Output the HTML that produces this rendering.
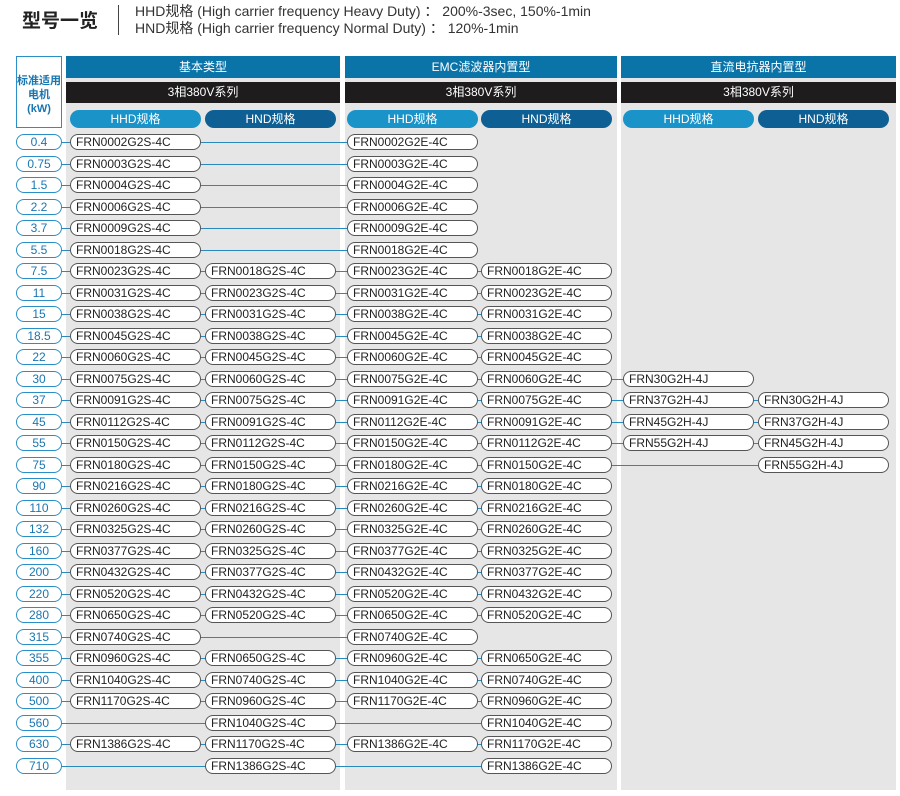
<!DOCTYPE html>
<html><head><meta charset="utf-8"><style>
*{margin:0;padding:0;box-sizing:border-box}
body{width:900px;height:796px;background:#fff;position:relative;overflow:hidden;font-family:"Liberation Sans","Noto Sans CJK SC",sans-serif}
.a{position:absolute}
.g{position:absolute;top:56px;height:734px;background:#e6e6e6}
.bl{position:absolute;top:56px;height:22px;background:#0a74a9;color:#fff;font-size:12px;text-align:center;line-height:22px}
.bk{position:absolute;top:82px;height:21px;background:#1e1c1c;color:#fff;font-size:12px;text-align:center;line-height:21px}
.h1,.h2{position:absolute;top:110px;height:18px;border-radius:9px;color:#fff;font-size:12px;text-align:center;line-height:18px;width:131px}
.h1{background:#1a93c9}.h2{background:#0e5f94}
.r{position:absolute;left:0;width:900px;height:16px;margin-top:-0.5px}
.ln{position:absolute;top:8px;height:1px;left:40px;background:#2b88bb}
.k{position:absolute;left:16px;width:46px;height:16px;border:1.3px solid #2a8fc6;border-radius:8px;background:#fff;color:#1a76b0;font-size:12px;text-align:center;line-height:14px}
.p{position:absolute;width:131px;height:16px;border:1.2px solid #555;border-radius:8px;background:#fff;color:#222;font-size:12px;line-height:14px;padding-left:5px;white-space:nowrap}
.c1{left:70px}.c2{left:205px}.c3{left:347px}.c4{left:481px}.c5{left:623px}.c6{left:758px}
</style></head><body>
<div class="a" style="left:22px;top:6px;font-size:19px;font-weight:bold;color:#222">型号一览</div>
<div class="a" style="left:118px;top:5px;width:1px;height:30px;background:#444"></div>
<div class="a" style="left:135px;top:3px;font-size:14px;color:#333;line-height:17px">HHD规格 (High carrier frequency Heavy Duty) ： 200%-3sec, 150%-1min<br>HND规格 (High carrier frequency Normal Duty) ： 120%-1min</div>
<div class="a" style="left:16px;top:56px;width:46px;height:72px;border:1.3px solid #2a8fc6;color:#1a76b0;font-size:11px;font-weight:bold;text-align:center;line-height:14px;padding-top:17px">标准适用<br>电机<br>(kW)</div>
<div class="g" style="left:66px;width:274px"></div>
<div class="g" style="left:345px;width:272px"></div>
<div class="g" style="left:621px;width:275px"></div>
<div class="bl" style="left:66px;width:274px">基本类型</div>
<div class="bl" style="left:345px;width:272px">EMC滤波器内置型</div>
<div class="bl" style="left:621px;width:275px">直流电抗器内置型</div>
<div class="bk" style="left:66px;width:274px">3相380V系列</div>
<div class="bk" style="left:345px;width:272px">3相380V系列</div>
<div class="bk" style="left:621px;width:275px">3相380V系列</div>
<div class="h1" style="left:70px">HHD规格</div><div class="h2" style="left:205px">HND规格</div>
<div class="h1" style="left:347px">HHD规格</div><div class="h2" style="left:481px">HND规格</div>
<div class="h1" style="left:623px">HHD规格</div><div class="h2" style="left:758px">HND规格</div>

<div class="r" style="top:134.5px"><div class="ln" style="width:307px"></div><div class="k">0.4</div><div class="p c1">FRN0002G2S-4C</div><div class="p c3">FRN0002G2E-4C</div></div>
<div class="r" style="top:156px"><div class="ln" style="width:307px"></div><div class="k">0.75</div><div class="p c1">FRN0003G2S-4C</div><div class="p c3">FRN0003G2E-4C</div></div>
<div class="r" style="top:177.5px"><div class="ln" style="width:307px"></div><div class="k">1.5</div><div class="p c1">FRN0004G2S-4C</div><div class="p c3">FRN0004G2E-4C</div></div>
<div class="r" style="top:199px"><div class="ln" style="width:307px"></div><div class="k">2.2</div><div class="p c1">FRN0006G2S-4C</div><div class="p c3">FRN0006G2E-4C</div></div>
<div class="r" style="top:220.5px"><div class="ln" style="width:307px"></div><div class="k">3.7</div><div class="p c1">FRN0009G2S-4C</div><div class="p c3">FRN0009G2E-4C</div></div>
<div class="r" style="top:242px"><div class="ln" style="width:307px"></div><div class="k">5.5</div><div class="p c1">FRN0018G2S-4C</div><div class="p c3">FRN0018G2E-4C</div></div>
<div class="r" style="top:263.5px"><div class="ln" style="width:441px"></div><div class="k">7.5</div><div class="p c1">FRN0023G2S-4C</div><div class="p c2">FRN0018G2S-4C</div><div class="p c3">FRN0023G2E-4C</div><div class="p c4">FRN0018G2E-4C</div></div>
<div class="r" style="top:285px"><div class="ln" style="width:441px"></div><div class="k">11</div><div class="p c1">FRN0031G2S-4C</div><div class="p c2">FRN0023G2S-4C</div><div class="p c3">FRN0031G2E-4C</div><div class="p c4">FRN0023G2E-4C</div></div>
<div class="r" style="top:306.5px"><div class="ln" style="width:441px"></div><div class="k">15</div><div class="p c1">FRN0038G2S-4C</div><div class="p c2">FRN0031G2S-4C</div><div class="p c3">FRN0038G2E-4C</div><div class="p c4">FRN0031G2E-4C</div></div>
<div class="r" style="top:328px"><div class="ln" style="width:441px"></div><div class="k">18.5</div><div class="p c1">FRN0045G2S-4C</div><div class="p c2">FRN0038G2S-4C</div><div class="p c3">FRN0045G2E-4C</div><div class="p c4">FRN0038G2E-4C</div></div>
<div class="r" style="top:349.5px"><div class="ln" style="width:441px"></div><div class="k">22</div><div class="p c1">FRN0060G2S-4C</div><div class="p c2">FRN0045G2S-4C</div><div class="p c3">FRN0060G2E-4C</div><div class="p c4">FRN0045G2E-4C</div></div>
<div class="r" style="top:371px"><div class="ln" style="width:583px"></div><div class="k">30</div><div class="p c1">FRN0075G2S-4C</div><div class="p c2">FRN0060G2S-4C</div><div class="p c3">FRN0075G2E-4C</div><div class="p c4">FRN0060G2E-4C</div><div class="p c5">FRN30G2H-4J</div></div>
<div class="r" style="top:392.5px"><div class="ln" style="width:718px"></div><div class="k">37</div><div class="p c1">FRN0091G2S-4C</div><div class="p c2">FRN0075G2S-4C</div><div class="p c3">FRN0091G2E-4C</div><div class="p c4">FRN0075G2E-4C</div><div class="p c5">FRN37G2H-4J</div><div class="p c6">FRN30G2H-4J</div></div>
<div class="r" style="top:414px"><div class="ln" style="width:718px"></div><div class="k">45</div><div class="p c1">FRN0112G2S-4C</div><div class="p c2">FRN0091G2S-4C</div><div class="p c3">FRN0112G2E-4C</div><div class="p c4">FRN0091G2E-4C</div><div class="p c5">FRN45G2H-4J</div><div class="p c6">FRN37G2H-4J</div></div>
<div class="r" style="top:435.5px"><div class="ln" style="width:718px"></div><div class="k">55</div><div class="p c1">FRN0150G2S-4C</div><div class="p c2">FRN0112G2S-4C</div><div class="p c3">FRN0150G2E-4C</div><div class="p c4">FRN0112G2E-4C</div><div class="p c5">FRN55G2H-4J</div><div class="p c6">FRN45G2H-4J</div></div>
<div class="r" style="top:457px"><div class="ln" style="width:718px"></div><div class="k">75</div><div class="p c1">FRN0180G2S-4C</div><div class="p c2">FRN0150G2S-4C</div><div class="p c3">FRN0180G2E-4C</div><div class="p c4">FRN0150G2E-4C</div><div class="p c6">FRN55G2H-4J</div></div>
<div class="r" style="top:478.5px"><div class="ln" style="width:441px"></div><div class="k">90</div><div class="p c1">FRN0216G2S-4C</div><div class="p c2">FRN0180G2S-4C</div><div class="p c3">FRN0216G2E-4C</div><div class="p c4">FRN0180G2E-4C</div></div>
<div class="r" style="top:500px"><div class="ln" style="width:441px"></div><div class="k">110</div><div class="p c1">FRN0260G2S-4C</div><div class="p c2">FRN0216G2S-4C</div><div class="p c3">FRN0260G2E-4C</div><div class="p c4">FRN0216G2E-4C</div></div>
<div class="r" style="top:521.5px"><div class="ln" style="width:441px"></div><div class="k">132</div><div class="p c1">FRN0325G2S-4C</div><div class="p c2">FRN0260G2S-4C</div><div class="p c3">FRN0325G2E-4C</div><div class="p c4">FRN0260G2E-4C</div></div>
<div class="r" style="top:543px"><div class="ln" style="width:441px"></div><div class="k">160</div><div class="p c1">FRN0377G2S-4C</div><div class="p c2">FRN0325G2S-4C</div><div class="p c3">FRN0377G2E-4C</div><div class="p c4">FRN0325G2E-4C</div></div>
<div class="r" style="top:564.5px"><div class="ln" style="width:441px"></div><div class="k">200</div><div class="p c1">FRN0432G2S-4C</div><div class="p c2">FRN0377G2S-4C</div><div class="p c3">FRN0432G2E-4C</div><div class="p c4">FRN0377G2E-4C</div></div>
<div class="r" style="top:586px"><div class="ln" style="width:441px"></div><div class="k">220</div><div class="p c1">FRN0520G2S-4C</div><div class="p c2">FRN0432G2S-4C</div><div class="p c3">FRN0520G2E-4C</div><div class="p c4">FRN0432G2E-4C</div></div>
<div class="r" style="top:607.5px"><div class="ln" style="width:441px"></div><div class="k">280</div><div class="p c1">FRN0650G2S-4C</div><div class="p c2">FRN0520G2S-4C</div><div class="p c3">FRN0650G2E-4C</div><div class="p c4">FRN0520G2E-4C</div></div>
<div class="r" style="top:629px"><div class="ln" style="width:307px"></div><div class="k">315</div><div class="p c1">FRN0740G2S-4C</div><div class="p c3">FRN0740G2E-4C</div></div>
<div class="r" style="top:650.5px"><div class="ln" style="width:441px"></div><div class="k">355</div><div class="p c1">FRN0960G2S-4C</div><div class="p c2">FRN0650G2S-4C</div><div class="p c3">FRN0960G2E-4C</div><div class="p c4">FRN0650G2E-4C</div></div>
<div class="r" style="top:672px"><div class="ln" style="width:441px"></div><div class="k">400</div><div class="p c1">FRN1040G2S-4C</div><div class="p c2">FRN0740G2S-4C</div><div class="p c3">FRN1040G2E-4C</div><div class="p c4">FRN0740G2E-4C</div></div>
<div class="r" style="top:693.5px"><div class="ln" style="width:441px"></div><div class="k">500</div><div class="p c1">FRN1170G2S-4C</div><div class="p c2">FRN0960G2S-4C</div><div class="p c3">FRN1170G2E-4C</div><div class="p c4">FRN0960G2E-4C</div></div>
<div class="r" style="top:715px"><div class="ln" style="width:441px"></div><div class="k">560</div><div class="p c2">FRN1040G2S-4C</div><div class="p c4">FRN1040G2E-4C</div></div>
<div class="r" style="top:736.5px"><div class="ln" style="width:441px"></div><div class="k">630</div><div class="p c1">FRN1386G2S-4C</div><div class="p c2">FRN1170G2S-4C</div><div class="p c3">FRN1386G2E-4C</div><div class="p c4">FRN1170G2E-4C</div></div>
<div class="r" style="top:758px"><div class="ln" style="width:441px"></div><div class="k">710</div><div class="p c2">FRN1386G2S-4C</div><div class="p c4">FRN1386G2E-4C</div></div>
</body></html>
